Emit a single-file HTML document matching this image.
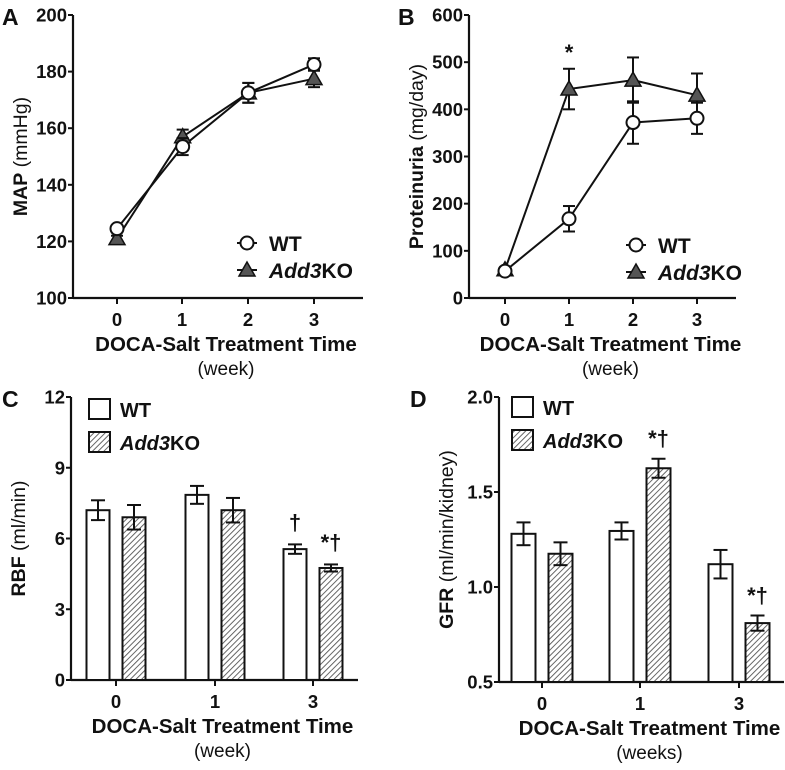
<!DOCTYPE html>
<html><head><meta charset="utf-8"><style>
body{margin:0;background:#fff;}
svg text{font-family:"Liberation Sans",Arial,sans-serif;font-weight:bold;fill:#111;}
</style></head><body>
<svg id="fig" width="785" height="765" viewBox="0 0 785 765" xmlns="http://www.w3.org/2000/svg">
<defs>
<pattern id="hatch" patternUnits="userSpaceOnUse" width="4" height="4" patternTransform="rotate(45)">
<rect width="4" height="4" fill="#fff"/><line x1="0" y1="0" x2="0" y2="4" stroke="#555" stroke-width="1.8"/>
</pattern>
</defs>
</svg>
<script>
// Panel A data
const weeksLine = [0,1,2,3];
const mapWT = [124.5,153.5,172.5,182.5];
const mapWTerr = [1.2,3,3.5,2.2];
const mapKO = [121,157,172.5,177.5];
const mapKOerr = [1,2.5,3.5,3];
const mapTicks = [100,120,140,160,180,200];
// Panel B data
const protWT = [57,168,372,381];
const protWTerr = [5,27,45,33];
const protKO = [60,443,462,430];
const protKOerr = [5,43,48,46];
const protTicks = [0,100,200,300,400,500,600];
// Panel C data
const weeksBar = ["0","1","3"];
const rbfWT = [7.2,7.85,5.55];
const rbfWTerr = [0.42,0.38,0.2];
const rbfKO = [6.9,7.2,4.75];
const rbfKOerr = [0.52,0.52,0.15];
const rbfTicks = [0,3,6,9,12];
// Panel D data
const gfrWT = [1.28,1.295,1.12];
const gfrWTerr = [0.06,0.045,0.075];
const gfrKO = [1.175,1.625,0.81];
const gfrKOerr = [0.06,0.05,0.04];
const gfrTicks = [0.5,1.0,1.5,2.0];

const NS="http://www.w3.org/2000/svg";
const svg=document.getElementById('fig');
function mk(tag,attrs,parent,txt){const e=document.createElementNS(NS,tag);for(const k in attrs)e.setAttribute(k,attrs[k]);if(txt!==undefined)e.textContent=txt;(parent||svg).appendChild(e);return e;}
function grp(name){const g=mk('g',{});


return g;}

function axes(g,o){
  const ys=v=>o.y1+(v-o.vmin)/(o.vmax-o.vmin)*(o.y0-o.y1);
  mk('line',{x1:o.ax,y1:o.y0,x2:o.ax,y2:o.y1,stroke:'#111','stroke-width':2.2},g);
  mk('line',{x1:o.ax,y1:o.y1,x2:o.axEnd,y2:o.y1,stroke:'#111','stroke-width':2.2},g);
  o.ticks.forEach((t,i)=>{const y=ys(t);
    mk('line',{x1:o.ax-5,y1:y,x2:o.ax,y2:y,stroke:'#111','stroke-width':2},g);
    const tx=mk('text',{x:o.ax-6,y:y+6.5,'font-size':18.5,'text-anchor':'end'},g,o.tickLbl?o.tickLbl[i]:t);
    
    
  });
  o.xt.forEach((x,i)=>{
    mk('line',{x1:x,y1:o.y1,x2:x,y2:o.y1+6,stroke:'#111','stroke-width':2},g);
    const tx=mk('text',{x:x,y:o.y1+28,'font-size':18.5,'text-anchor':'middle'},g,o.xl[i]);
    
    
  });
  const cx=(o.ax+o.axEnd)/2+8;
  const t1=mk('text',{x:cx,y:o.y1+53,'font-size':20.5,'text-anchor':'middle'},g,'DOCA-Salt Treatment Time');
  
  
  const t2=mk('text',{x:cx,y:o.y1+77,'font-size':19,'text-anchor':'middle',style:'font-weight:normal'},g,o.unit);
  
  
  const my=(o.y0+o.y1)/2;
  const yt=mk('text',{x:0,y:0,'font-size':19.5,'text-anchor':'middle',transform:`translate(${o.ax-46},${my}) rotate(-90)`},g);
  
  
  mk('tspan',{},yt,o.yt1);
  mk('tspan',{style:'font-weight:normal'},yt,' '+o.yt2);
  const pl=mk('text',{x:o.lx,y:o.y0+10,'font-size':23},g,o.letter);
  
  
  return ys;
}
function errbar(g,x,yv,ye,ys,w){
  mk('line',{x1:x,y1:ys(yv-ye),x2:x,y2:ys(yv+ye),stroke:'#111','stroke-width':2},g);
  mk('line',{x1:x-w,y1:ys(yv+ye),x2:x+w,y2:ys(yv+ye),stroke:'#111','stroke-width':2},g);
  mk('line',{x1:x-w,y1:ys(yv-ye),x2:x+w,y2:ys(yv-ye),stroke:'#111','stroke-width':2},g);
}
function tri(g,x,y,name){const p=mk('polygon',{points:`${x},${y-8} ${x-8},${y+6} ${x+8},${y+6}`,fill:'#555',stroke:'#111','stroke-width':1.5},g);

}
function circ(g,x,y,name){const c=mk('circle',{cx:x,cy:y,r:6.5,fill:'#fff',stroke:'#111','stroke-width':2},g);

}

function linePanel(name,o,wt,wte,ko,koe,legX,legY,stars){
  const g=grp(name);
  const ys=axes(g,o);
  const xs=w=>o.xt[0]+(o.xt[3]-o.xt[0])*w/3;
  const ptsKO=weeksLine.map((w,i)=>xs(w)+','+ys(ko[i])).join(' ');
  const ptsWT=weeksLine.map((w,i)=>xs(w)+','+ys(wt[i])).join(' ');
  const lk=mk('polyline',{points:ptsKO,fill:'none',stroke:'#111','stroke-width':2},g);
  
  
  const lw=mk('polyline',{points:ptsWT,fill:'none',stroke:'#111','stroke-width':2},g);
  
  
  weeksLine.forEach((w,i)=>{errbar(g,xs(w),ko[i],koe[i],ys,6);tri(g,xs(w),ys(ko[i]),'ko-point');});
  weeksLine.forEach((w,i)=>{errbar(g,xs(w),wt[i],wte[i],ys,6);circ(g,xs(w),ys(wt[i]),'wt-point');});
  stars.forEach(s=>{const t=mk('text',{x:xs(s.w),y:ys(s.v),'font-size':22,'text-anchor':'middle'},g,'*');
    
    });
  const lg=grp('legend');g.appendChild(lg);
  mk('line',{x1:legX-10,y1:legY,x2:legX+10,y2:legY,stroke:'#111','stroke-width':2},lg);
  circ(lg,legX,legY,'legend-wt-marker');
  mk('text',{x:legX+22,y:legY+8,'font-size':21},lg,'WT');
  mk('line',{x1:legX-10,y1:legY+27,x2:legX+10,y2:legY+27,stroke:'#111','stroke-width':2},lg);
  tri(lg,legX,legY+27,'legend-ko-marker');
  const kt=mk('text',{x:legX+22,y:legY+35,'font-size':21},lg);
  mk('tspan',{'font-style':'italic'},kt,'Add3');mk('tspan',{},kt,'KO');
}

function barPanel(name,o,wt,wte,ko,koe,bw,off,legX,legY,marks){
  const g=grp(name);
  const ys=axes(g,o);
  weeksBar.forEach((w,i)=>{
    const c=o.xt[i];
    const b1=mk('rect',{x:c-off-bw/2,y:ys(wt[i]),width:bw,height:ys(o.vmin)-ys(wt[i]),fill:'#fff',stroke:'#111','stroke-width':2},g);
    
    
    errbar(g,c-off,wt[i],wte[i],ys,7);
    const b2=mk('rect',{x:c+off-bw/2,y:ys(ko[i]),width:bw,height:ys(o.vmin)-ys(ko[i]),fill:'url(#hatch)',stroke:'#111','stroke-width':2},g);
    
    
    errbar(g,c+off,ko[i],koe[i],ys,7);
  });
  marks.forEach(m=>{const x=o.xt[m.i]+(m.ko?off:-off);
    const t=mk('text',{x:x,y:ys(m.v)-6,'font-size':22,'text-anchor':'middle'},g,m.t);
    
    });
  const lg=grp('legend');g.appendChild(lg);
  mk('rect',{x:legX,y:legY,width:21,height:20,fill:'#fff',stroke:'#111','stroke-width':2},lg);
  mk('text',{x:legX+31,y:legY+18,'font-size':20},lg,'WT');
  mk('rect',{x:legX,y:legY+33,width:21,height:20,fill:'url(#hatch)',stroke:'#111','stroke-width':2},lg);
  const kt=mk('text',{x:legX+31,y:legY+51,'font-size':20},lg);
  mk('tspan',{'font-style':'italic'},kt,'Add3');mk('tspan',{},kt,'KO');
}

linePanel('panel-a-map',{ax:73,axEnd:363,y0:15,y1:298,vmin:100,vmax:200,ticks:mapTicks,xt:[117,182,248,314],xl:['0','1','2','3'],unit:'(week)',yt1:'MAP',yt2:'(mmHg)',letter:'A',lx:2},
  mapWT,mapWTerr,mapKO,mapKOerr,247,243,[]);
linePanel('panel-b-proteinuria',{ax:469,axEnd:736,y0:15,y1:298,vmin:0,vmax:600,ticks:protTicks,xt:[505,569,633,697],xl:['0','1','2','3'],unit:'(week)',yt1:'Proteinuria',yt2:'(mg/day)',letter:'B',lx:398},
  protWT,protWTerr,protKO,protKOerr,636,245,[{w:1,v:505}]);
barPanel('panel-c-rbf',{ax:71,axEnd:358,y0:397,y1:680,vmin:0,vmax:12,ticks:rbfTicks,xt:[116,215,313],xl:weeksBar,unit:'(week)',yt1:'RBF',yt2:'(ml/min)',letter:'C',lx:2},
  rbfWT,rbfWTerr,rbfKO,rbfKOerr,23,18,89,399,[{i:2,ko:false,v:6.1,t:'†'},{i:2,ko:true,v:5.25,t:'*†'}]);
barPanel('panel-d-gfr',{ax:499,axEnd:784,y0:397,y1:682,vmin:0.5,vmax:2.0,ticks:gfrTicks,tickLbl:['0.5','1.0','1.5','2.0'],xt:[542,640,739],xl:weeksBar,unit:'(weeks)',yt1:'GFR',yt2:'(ml/min/kidney)',letter:'D',lx:410},
  gfrWT,gfrWTerr,gfrKO,gfrKOerr,24,18.5,512,397,[{i:1,ko:true,v:1.71,t:'*†'},{i:2,ko:true,v:0.885,t:'*†'}]);
</script>
</body></html>
